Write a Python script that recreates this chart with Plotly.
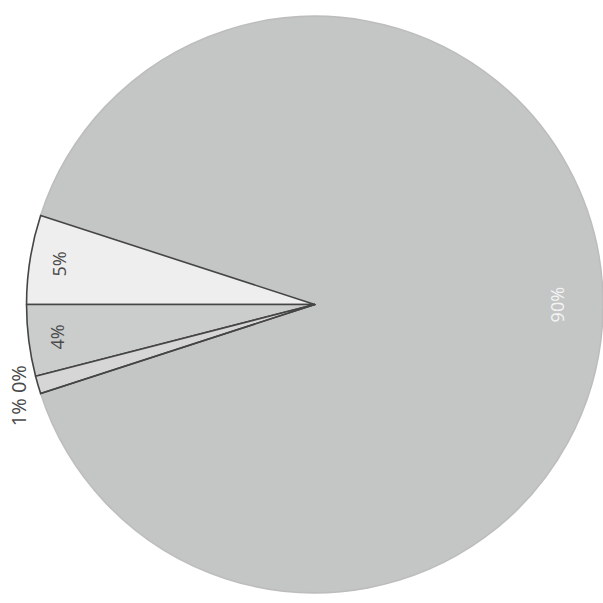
import math
import plotly.graph_objects as go

# Share of each category; the large slice is listed first so the small
# slices (and their dark outlines) are drawn on top of it
categories = ["A", "B", "C", "D", "E"]
values = [90, 5, 4, 1, 0]
pct_labels = ["90%", "5%", "4%", "1%", "0%"]

fill_colors = ["#c4c6c6", "#eeeeee", "#cbcdcd", "#d6d6d6", "#d6d6d6"]
edge_colors = ["#bdbdbd", "#454545", "#454545", "#454545", "#454545"]
text_colors = ["#f4f4f4", "#4a4a4a", "#4a4a4a", "#4a4a4a", "#4a4a4a"]

W = H = 603
dom_x = [0.044, 1.0]
dom_y = [0.017, 0.973]
total = sum(values)

# Slice "B" ends on the left horizontal (math angle 180 deg)
rotation = 360 * values[1] / total - 90
# Math angle (counterclockwise from 3 o'clock) where the first slice begins
pie_start = 90 - rotation - 360 * values[0] / total

fig = go.Figure(
    go.Pie(
        labels=categories,
        values=values,
        textinfo="none",
        sort=False,
        direction="counterclockwise",
        rotation=rotation,
        marker=dict(colors=fill_colors, line=dict(color=edge_colors, width=1.6)),
        domain=dict(x=dom_x, y=dom_y),
        hoverinfo="label+percent",
        showlegend=False,
    )
)

# Rotated percentage labels placed along each slice's mid-angle
cx = (dom_x[0] + dom_x[1]) / 2
cy = (dom_y[0] + dom_y[1]) / 2
radius = min(dom_x[1] - dom_x[0], dom_y[1] - dom_y[0]) / 2
cum = 0.0
small = []
for label, v, col in zip(pct_labels, values, text_colors):
    mid = math.radians(pie_start + 360 * (cum + v / 2) / total)
    cum += v
    if v < 4:
        small.append((label, mid))
        continue
    frac = 0.9 if v < 50 else 0.84
    fig.add_annotation(
        text=label, xref="paper", yref="paper",
        x=cx + frac * radius * math.cos(mid),
        y=cy + frac * radius * math.sin(mid),
        xanchor="center", yanchor="middle",
        showarrow=False, textangle=-90,
        font=dict(family="Open Sans", size=18, color=col),
    )

# Tiny slices share one label just outside the rim
mid = sum(a for _, a in small) / len(small)
fig.add_annotation(
    text=" ".join(t for t, _ in small), xref="paper", yref="paper",
    x=cx + 1.075 * radius * math.cos(mid),
    y=cy + 1.075 * radius * math.sin(mid),
    xanchor="center", yanchor="middle",
    showarrow=False, textangle=-90,
    font=dict(family="Open Sans", size=20, color="#4a4a4a"),
)

fig.update_layout(
    width=W,
    height=H,
    margin=dict(l=0, r=0, t=0, b=0),
    paper_bgcolor="white",
    plot_bgcolor="white",
)

fig.write_html("out.html")
